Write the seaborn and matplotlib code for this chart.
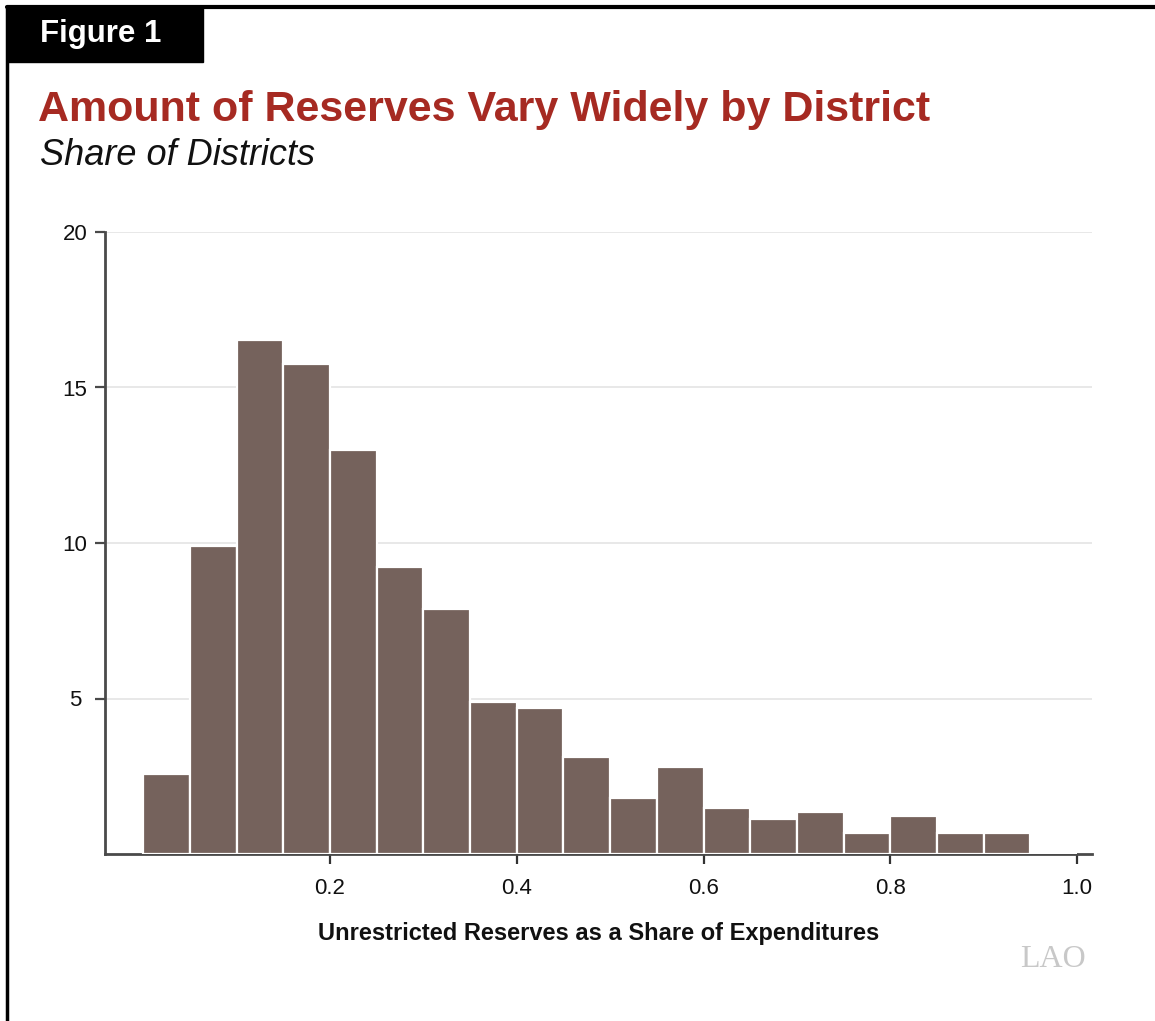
import matplotlib
matplotlib.use("Agg")
import matplotlib.pyplot as plt
import seaborn as sns
import numpy as np
import pandas as pd
from matplotlib.patches import Rectangle
from matplotlib.lines import Line2D

# ---- data ----
bin_edges = [0.00, 0.05, 0.10, 0.15, 0.20, 0.25, 0.30, 0.35, 0.40, 0.45, 0.50,
             0.55, 0.60, 0.65, 0.70, 0.75, 0.80, 0.85, 0.90, 0.95, 1.00]
bin_centers = [0.025, 0.075, 0.125, 0.175, 0.225, 0.275, 0.325, 0.375, 0.425, 0.475,
               0.525, 0.575, 0.625, 0.675, 0.725, 0.775, 0.825, 0.875, 0.925, 0.975]
share_pct = [2.57, 9.9, 16.53, 15.76, 13.0, 9.23, 7.88, 4.89, 4.69, 3.12,
             1.8, 2.8, 1.48, 1.13, 1.35, 0.68, 1.22, 0.68, 0.68, 0.0]
x_ticks = [0.2, 0.4, 0.6, 0.8, 1.0]
x_tick_labels = ["0.2", "0.4", "0.6", "0.8", "1.0"]
y_ticks = [5, 10, 15, 20]
y_tick_labels = ["5", "10", "15", "20"]

df = pd.DataFrame({"share": bin_centers, "pct": share_pct})

sns.set_style("white")
plt.rcParams["font.family"] = ["Liberation Sans", "DejaVu Sans"]

W, H = 1155, 1021
fig = plt.figure(figsize=(W / 100, H / 100), dpi=100)
ax = fig.add_axes([105 / W, 1 - 854 / H, (1092 - 105) / W, (854 - 232) / H])

sns.histplot(data=df, x="share", weights="pct", bins=bin_edges, ax=ax,
             color="#75625C", alpha=1.0, edgecolor="white", linewidth=1.6, zorder=3)

ax.set_xlim(-0.041, 1.016)
ax.set_ylim(0, 20)
ax.set_xticks(x_ticks)
ax.set_xticklabels(x_tick_labels)
ax.set_yticks(y_ticks)
ax.set_yticklabels(y_tick_labels, ha="center")
ax.yaxis.grid(True, color="#e4e4e4", linewidth=1.2, zorder=0)
ax.set_axisbelow(True)
ax.set_ylabel("")
ax.set_xlabel("Unrestricted Reserves as a Share of Expenditures",
              fontsize=17, fontweight="bold", labelpad=17, color="#111111")
for s in ["top", "right"]:
    ax.spines[s].set_visible(False)
for s in ["left", "bottom"]:
    ax.spines[s].set_color("#4a4a4a")
    ax.spines[s].set_linewidth(2)
ax.tick_params(axis="both", which="major", labelsize=16, colors="#111111",
               length=7, width=1.6, direction="out", bottom=True, left=True)
ax.tick_params(axis="x", pad=10, color="#333333")
ax.tick_params(axis="y", pad=14.5, color="#4a4a4a")

# ---- frame & titles ----
fig.add_artist(Line2D([7 / W, 1], [1 - 7 / H, 1 - 7 / H], color="black", lw=3,
                      transform=fig.transFigure))
fig.add_artist(Line2D([7 / W, 7 / W], [0, 1 - 7 / H], color="black", lw=2.5,
                      transform=fig.transFigure))
fig.add_artist(Rectangle((7 / W, 1 - 62 / H), (203 - 7) / W, (62 - 7) / H,
                         transform=fig.transFigure, color="black"))
fig.text(40 / W, 1 - 34 / H, "Figure 1", color="white", fontsize=22.5,
         fontweight="bold", va="center", ha="left")
fig.text(38 / W, 1 - 121 / H, "Amount of Reserves Vary Widely by District",
         color="#A62A22", fontsize=31, fontweight="bold", va="baseline", ha="left")
fig.text(40 / W, 1 - 165 / H, "Share of Districts", color="#111111",
         fontsize=26, fontstyle="italic", va="baseline", ha="left")
fig.text(1020 / W, 1 - 967 / H, "LAO", color="#c8c8c8", fontsize=23,
         family="Liberation Serif", va="baseline", ha="left")

fig.savefig("out.png", dpi=100)
